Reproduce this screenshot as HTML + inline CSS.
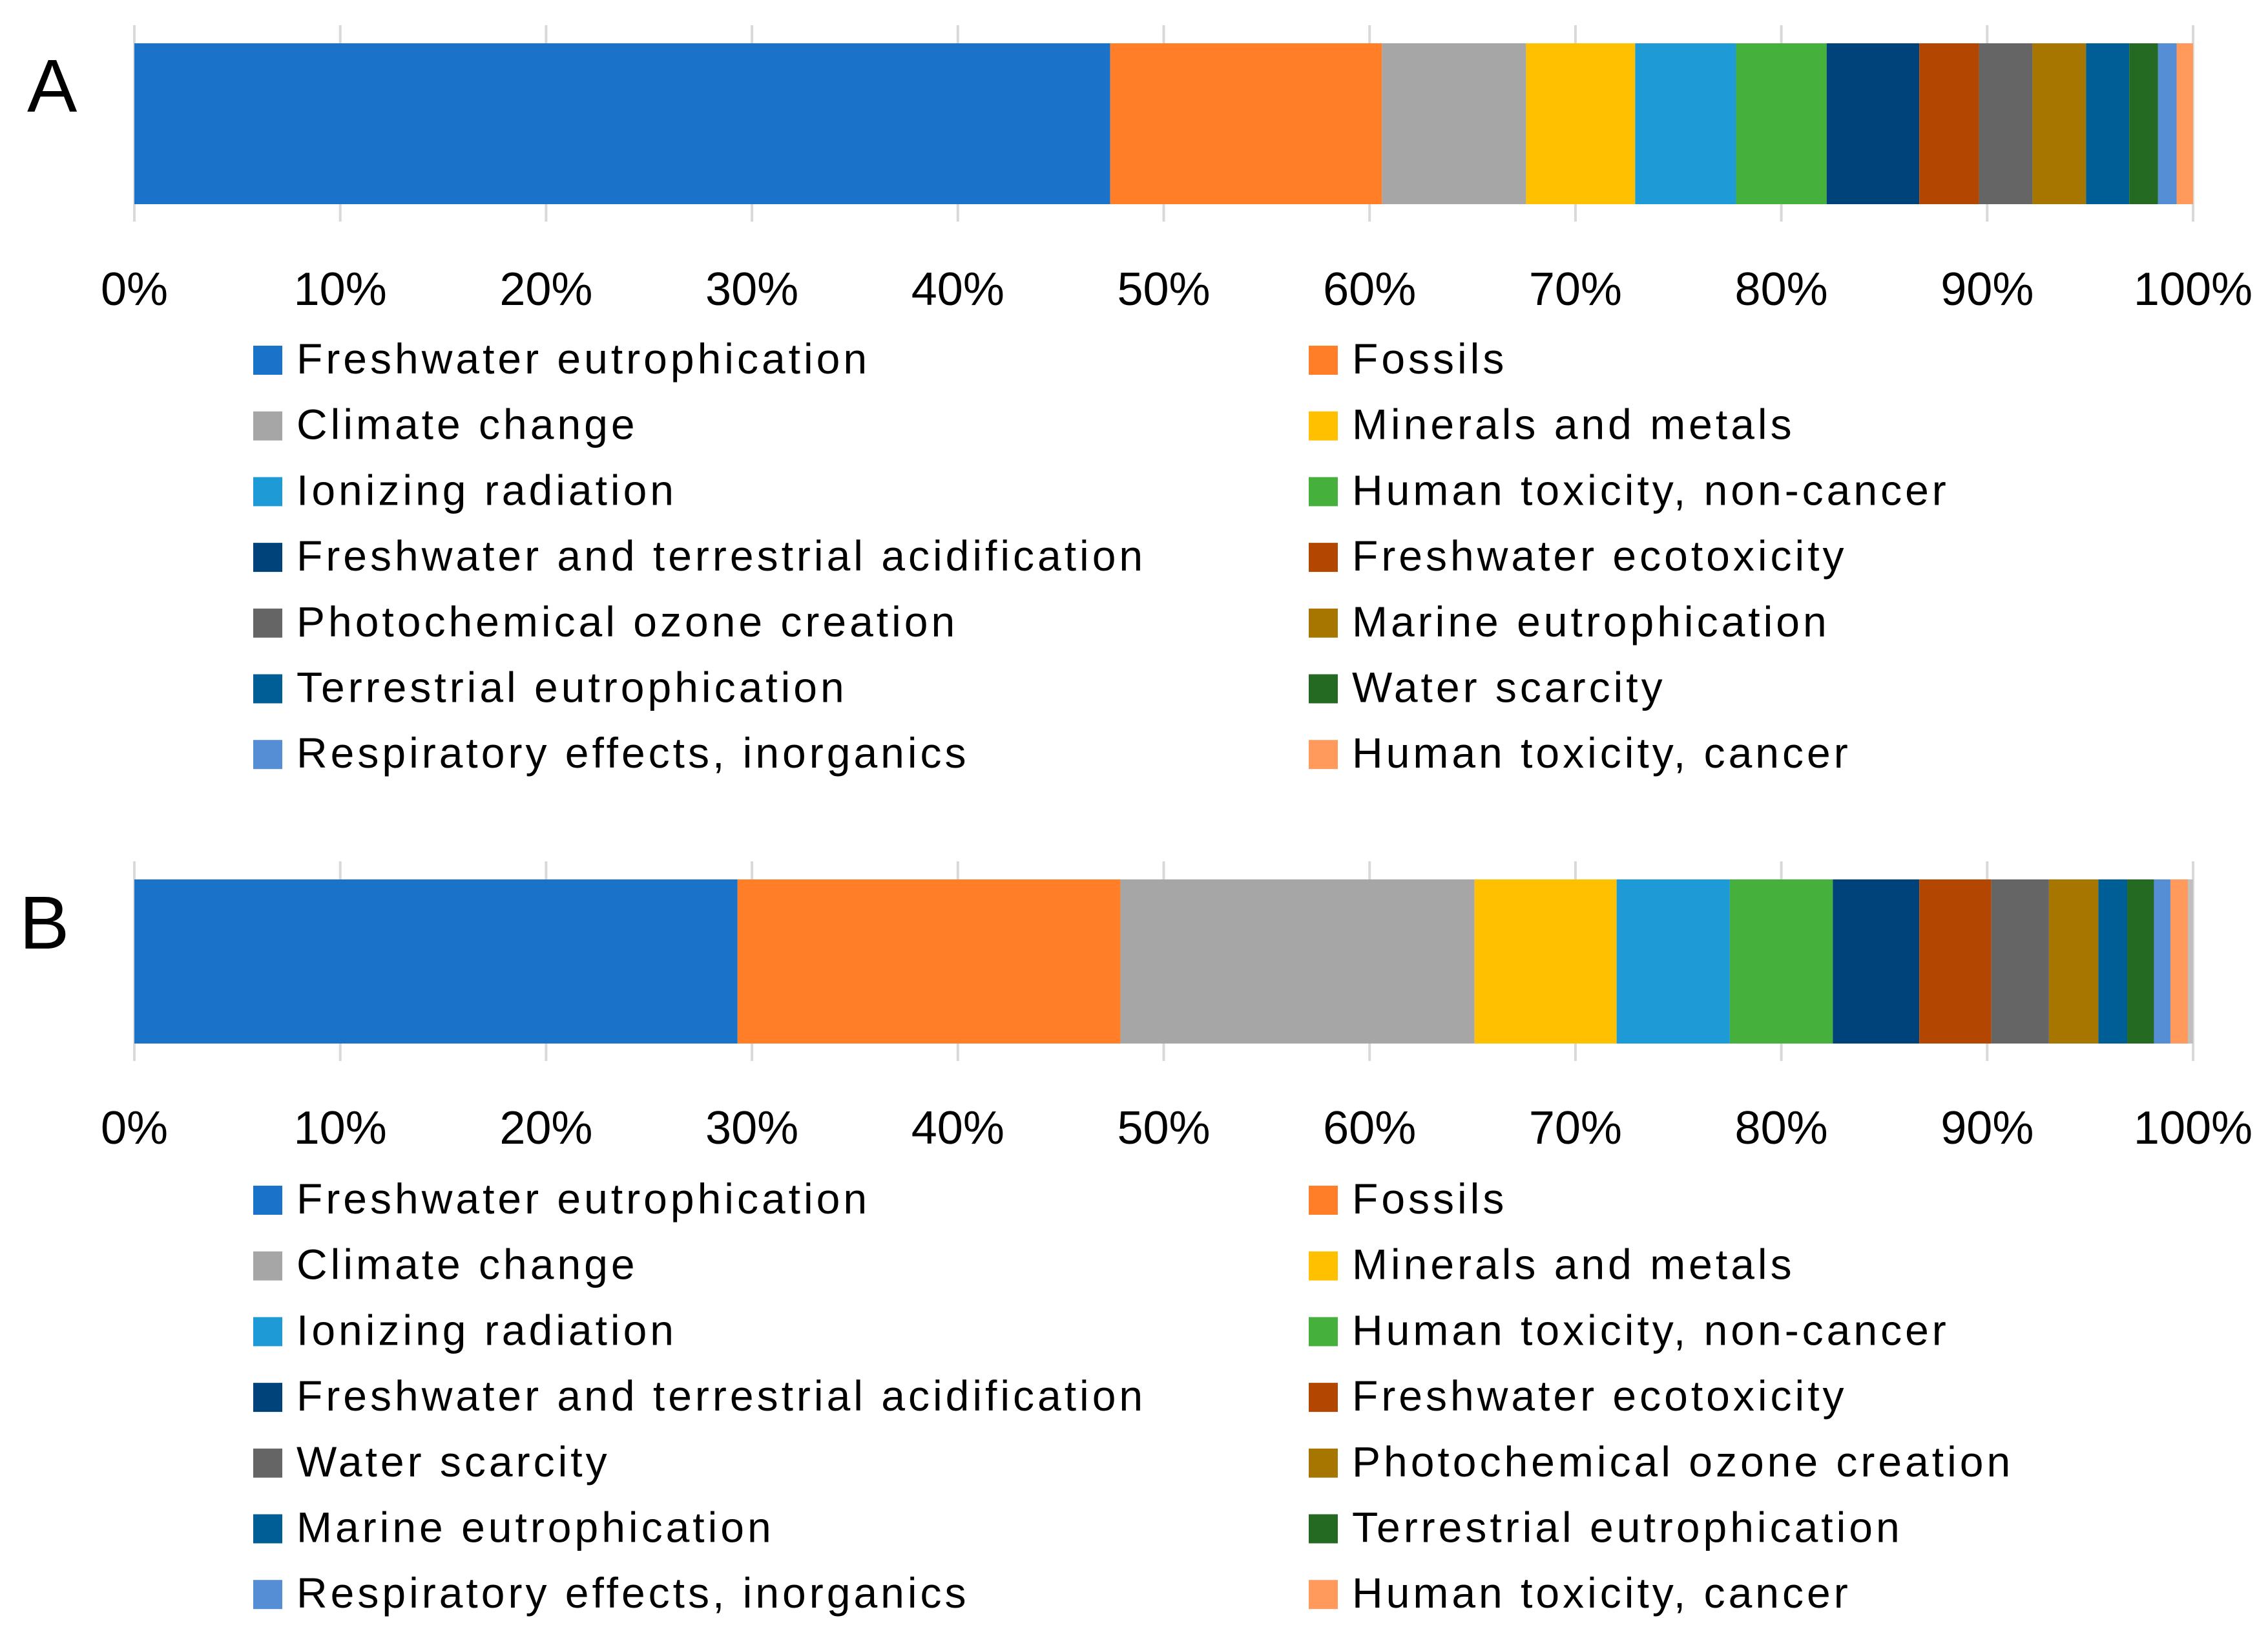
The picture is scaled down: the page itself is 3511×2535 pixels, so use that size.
<!DOCTYPE html>
<html><head><meta charset="utf-8"><style>
html,body{margin:0;padding:0;background:#fff;}
svg{display:block;}
text{font-family:"Liberation Sans",sans-serif;fill:#000;}
</style></head><body>
<svg id="chart" width="3511" height="2535" viewBox="0 0 3511 2535" xmlns="http://www.w3.org/2000/svg"></svg>
<script>
const palette = ["#1a73c8","#ff7e27","#a6a6a6","#ffc000","#1e9bd7","#46b03c","#00437a","#b34600","#656565","#a67600","#005e96","#246a22","#558ed5","#ff9a5c","#bfbfbf"];
const seriesA = ["Freshwater eutrophication","Fossils","Climate change","Minerals and metals","Ionizing radiation","Human toxicity, non-cancer","Freshwater and terrestrial acidification","Freshwater ecotoxicity","Photochemical ozone creation","Marine eutrophication","Terrestrial eutrophication","Water scarcity","Respiratory effects, inorganics","Human toxicity, cancer"];
const valuesA = [47.4,13.2,7.0,5.3,4.9,4.4,4.5,2.9,2.6,2.6,2.1,1.4,0.9,0.8];
const seriesB = ["Freshwater eutrophication","Fossils","Climate change","Minerals and metals","Ionizing radiation","Human toxicity, non-cancer","Freshwater and terrestrial acidification","Freshwater ecotoxicity","Water scarcity","Photochemical ozone creation","Marine eutrophication","Terrestrial eutrophication","Respiratory effects, inorganics","Human toxicity, cancer","Other"];
const valuesB = [29.3,18.6,17.2,6.9,5.5,5.0,4.2,3.5,2.8,2.4,1.4,1.3,0.8,0.85,0.25];
const tickValues = [0,10,20,30,40,50,60,70,80,90,100];
const tickLabels = ["0%","10%","20%","30%","40%","50%","60%","70%","80%","90%","100%"];

const NS="http://www.w3.org/2000/svg";
const svg=document.getElementById('chart');
function mk(tag,attrs,parent){const e=document.createElementNS(NS,tag);for(const k in attrs)e.setAttribute(k,attrs[k]);(parent||svg).appendChild(e);return e;}
const X0=208, X1=3395;
function xs(v){return X0+(X1-X0)*v/100;}

function panel(letter,letterX,letterY,series,values,legendN,barTop,barBot,gTop,gBot,tickBase,legBase){
  const g=mk('g',{});
  
  
  const lt=mk('text',{x:letterX,y:letterY,'font-size':116},g);
  lt.textContent=letter;
  
  
  tickValues.forEach((t,i)=>{
    const l=mk('line',{x1:xs(t),x2:xs(t),y1:gTop,y2:gBot,stroke:'#d9d9d9','stroke-width':4},g);
    
    
  });
  let acc=0;
  values.forEach((v,i)=>{
    const r=mk('rect',{x:xs(acc),y:barTop,width:xs(acc+v)-xs(acc),height:barBot-barTop,fill:palette[i]},g);
    
    
    acc+=v;
  });
  tickValues.forEach((t,i)=>{
    const tx=mk('text',{x:xs(t),y:tickBase,'font-size':72,'text-anchor':'middle'},g);
    tx.textContent=tickLabels[i];
    
    
  });
  for(let i=0;i<legendN;i++){
    const col=i%2,row=Math.floor(i/2);
    const sx=col?2026:392, base=legBase+row*101.7;
    const e=mk('g',{},g);
    
    
    mk('rect',{x:sx,y:base-45,width:45,height:45,fill:palette[i]},e);
    const t=mk('text',{x:sx+67,y:base-2,'font-size':66,'letter-spacing':5},e);
    t.textContent=series[i];
  }
}
panel('A',42,173,seriesA,valuesA,14,67,316,39,343,472,580);
panel('B',30,1468,seriesB,valuesB,14,1361,1615,1333,1642,1770,1880);
</script>
</body></html>
